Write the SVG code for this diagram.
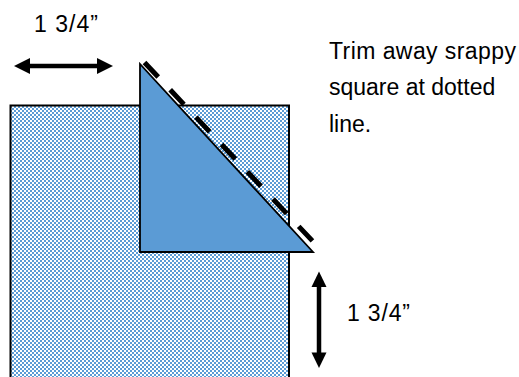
<svg xmlns="http://www.w3.org/2000/svg" width="519" height="377" viewBox="0 0 519 377">
  <style>
    .lbl { font-family: "Liberation Sans", Arial, sans-serif; fill: #000; }
    .arrow { stroke: #000; stroke-width: 4.5; fill: none; }
    .head { fill: #000; stroke: none; }
  </style>
  <defs>
    <pattern id="checker" x="0" y="0" width="4" height="4" patternUnits="userSpaceOnUse">
      <rect x="0" y="0" width="4" height="4" fill="#ffffff"/>
      <rect x="0" y="0" width="2" height="2" fill="#5B9BD5"/>
      <rect x="2" y="2" width="2" height="2" fill="#5B9BD5"/>
    </pattern>
  </defs>
  <rect width="519" height="377" fill="#ffffff"/>

  <g id="scrappy-square">
    <rect x="10.5" y="105.5" width="278.5" height="290" fill="url(#checker)" stroke="#000" stroke-width="2"/>
  </g>

  <g id="triangle">
    <polygon points="140,64 140,252 313,252" fill="#5B9BD5" stroke="#000" stroke-width="1.8" stroke-linejoin="miter"/>
  </g>

  <g id="connectors">
    <line id="trim-line" x1="144.5" y1="62.5" x2="312.5" y2="241" stroke="#000" stroke-width="5" stroke-dasharray="20 17.5"/>
    <g id="arrow-horizontal">
      <line class="arrow" x1="28" y1="66" x2="99" y2="66"/>
      <polygon class="head" points="14,66 30,58 30,74"/>
      <polygon class="head" points="113,66 97,58 97,74"/>
    </g>
    <g id="arrow-vertical">
      <line class="arrow" x1="319" y1="285" x2="319" y2="354"/>
      <polygon class="head" points="319,271.5 311.5,287 326.5,287"/>
      <polygon class="head" points="319,368 311.5,352.5 326.5,352.5"/>
    </g>
  </g>

  <g id="label-top">
    <text class="lbl" x="34" y="32" font-size="23" textLength="64" lengthAdjust="spacing">1 3/4”</text>
  </g>
  <g id="label-bottom">
    <text class="lbl" x="347" y="321" font-size="23" textLength="63" lengthAdjust="spacing">1 3/4”</text>
  </g>
  <g id="note">
    <text class="lbl" x="329" y="58.5" font-size="23" textLength="187" lengthAdjust="spacing">Trim away srappy</text>
    <text class="lbl" x="329" y="95" font-size="23">square at dotted</text>
    <text class="lbl" x="329" y="131.5" font-size="23">line.</text>
  </g>
</svg>
